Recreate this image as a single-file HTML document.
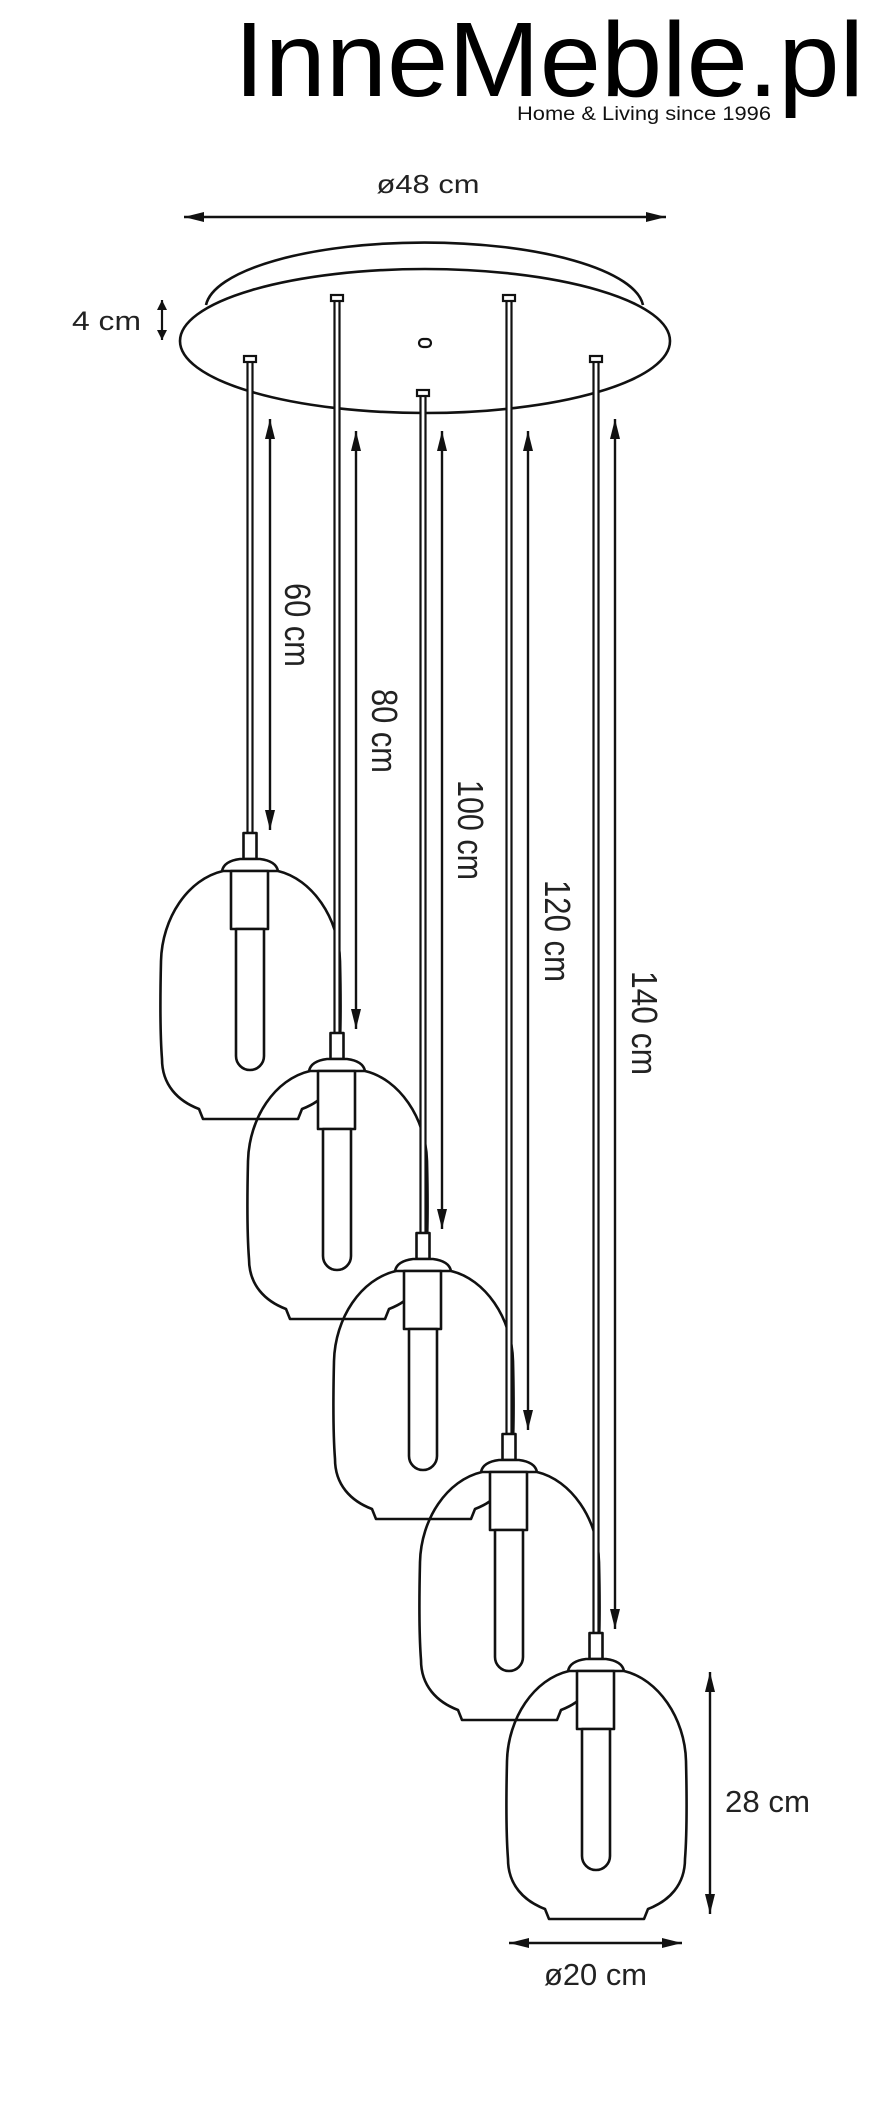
<!DOCTYPE html>
<html><head><meta charset="utf-8"><style>
html,body{margin:0;padding:0;background:#fff;}
svg{display:block;}
text{font-family:"Liberation Sans",sans-serif;fill:#222;}
</style></head><body>
<svg width="881" height="2113" viewBox="0 0 881 2113" xmlns="http://www.w3.org/2000/svg">
<defs>
<g id="lamp" stroke="#111" stroke-width="2.6" stroke-linejoin="round">
  <path d="M-27,38 C-62,46 -88,85 -89,128 C-90,170 -90,200 -88,226 C-88,252 -72,268 -51,276 L-47,286 L48,286 L52,276 C73,268 89,252 89,226 C91,200 91,170 90,128 C89,85 62,46 28,38" fill="none"/>
  <rect x="-6.5" y="0" width="13" height="26" fill="#fff"/>
  <path d="M-28,38 Q-26,28 -10,26 L10,26 Q26,28 28,38 Z" fill="#fff"/>
  <rect x="-19" y="38" width="37" height="58" fill="#fff"/>
  <path d="M-14,96 L-14,223 A14,14 0 0 0 14,223 L14,96 Z" fill="#fff"/>
</g>
<marker id="ah" viewBox="0 0 10 10" refX="10" refY="5" markerWidth="10" markerHeight="10" markerUnits="userSpaceOnUse" orient="auto-start-reverse">
  <path d="M0,0 L10,5 L0,10 Z" fill="#111"/>
</marker>
<marker id="ahb" viewBox="0 0 20 10" refX="20" refY="5" markerWidth="20" markerHeight="10" markerUnits="userSpaceOnUse" orient="auto-start-reverse">
  <path d="M0,0 L20,5 L0,10 Z" fill="#111"/>
</marker>
</defs>

<!-- logo -->
<text x="234" y="96" font-size="106" textLength="630" lengthAdjust="spacingAndGlyphs" style="fill:#000">InneMeble.pl</text>
<text x="517" y="120" font-size="19" textLength="254" lengthAdjust="spacingAndGlyphs" style="fill:#111">Home &amp; Living since 1996</text>

<!-- top dimension -->
<text x="428" y="193" font-size="26" text-anchor="middle" textLength="103" lengthAdjust="spacingAndGlyphs">ø48 cm</text>
<line x1="184" y1="217" x2="666" y2="217" stroke="#111" stroke-width="2.4" marker-start="url(#ahb)" marker-end="url(#ahb)"/>

<text x="72" y="330" font-size="27" textLength="69" lengthAdjust="spacingAndGlyphs">4 cm</text>
<line x1="162" y1="300" x2="162" y2="340" stroke="#111" stroke-width="2.2" marker-start="url(#ah)" marker-end="url(#ah)"/>

<!-- canopy -->
<path d="M206,305 A219,67 0 0 1 643,305" fill="#fff" stroke="#111" stroke-width="2.6"/>
<ellipse cx="425" cy="341" rx="245" ry="72" fill="#fff" stroke="#111" stroke-width="2.6"/>
<rect x="419" y="339" width="12" height="8" rx="4" fill="#fff" stroke="#111" stroke-width="2.2"/>

<!-- dimension arrows for cables -->
<g stroke="#111" stroke-width="2.4">
<line x1="270" y1="419" x2="270" y2="830" marker-start="url(#ahb)" marker-end="url(#ahb)"/>
<line x1="356" y1="431" x2="356" y2="1029" marker-start="url(#ahb)" marker-end="url(#ahb)"/>
<line x1="442" y1="431" x2="442" y2="1229" marker-start="url(#ahb)" marker-end="url(#ahb)"/>
<line x1="528" y1="431" x2="528" y2="1430" marker-start="url(#ahb)" marker-end="url(#ahb)"/>
<line x1="615" y1="419" x2="615" y2="1629" marker-start="url(#ahb)" marker-end="url(#ahb)"/>
</g>
<g font-size="36">
<text transform="translate(285,625) rotate(90)" text-anchor="middle" textLength="84" lengthAdjust="spacingAndGlyphs">60 cm</text>
<text transform="translate(372,731) rotate(90)" text-anchor="middle" textLength="84" lengthAdjust="spacingAndGlyphs">80 cm</text>
<text transform="translate(458,830) rotate(90)" text-anchor="middle" textLength="100" lengthAdjust="spacingAndGlyphs">100 cm</text>
<text transform="translate(545,931) rotate(90)" text-anchor="middle" textLength="102" lengthAdjust="spacingAndGlyphs">120 cm</text>
<text transform="translate(632,1023) rotate(90)" text-anchor="middle" textLength="104" lengthAdjust="spacingAndGlyphs">140 cm</text>
</g>

<!-- lamp 1 -->
<g stroke="#111" stroke-width="2.2" fill="#fff">
<rect x="247.5" y="359" width="5" height="474"/><rect x="244" y="356" width="12" height="6"/>
</g>
<use href="#lamp" transform="translate(250,833)"/>
<!-- lamp 2 -->
<g stroke="#111" stroke-width="2.2" fill="#fff">
<rect x="334.5" y="298" width="5" height="735"/><rect x="331" y="295" width="12" height="6"/>
</g>
<use href="#lamp" transform="translate(337,1033)"/>
<!-- lamp 3 -->
<g stroke="#111" stroke-width="2.2" fill="#fff">
<rect x="420.5" y="393" width="5" height="840"/><rect x="417" y="390" width="12" height="6"/>
</g>
<use href="#lamp" transform="translate(423,1233)"/>
<!-- lamp 4 -->
<g stroke="#111" stroke-width="2.2" fill="#fff">
<rect x="506.5" y="298" width="5" height="1136"/><rect x="503" y="295" width="12" height="6"/>
</g>
<use href="#lamp" transform="translate(509,1434)"/>
<!-- lamp 5 -->
<g stroke="#111" stroke-width="2.2" fill="#fff">
<rect x="593.5" y="359" width="5" height="1274"/><rect x="590" y="356" width="12" height="6"/>
</g>
<use href="#lamp" transform="translate(596,1633)"/>

<!-- lamp dims -->
<line x1="710" y1="1672" x2="710" y2="1914" stroke="#111" stroke-width="2.4" marker-start="url(#ahb)" marker-end="url(#ahb)"/>
<text x="725" y="1812" font-size="31" textLength="85" lengthAdjust="spacingAndGlyphs">28 cm</text>
<line x1="509" y1="1943" x2="682" y2="1943" stroke="#111" stroke-width="2.4" marker-start="url(#ahb)" marker-end="url(#ahb)"/>
<text x="544" y="1985" font-size="31" textLength="103" lengthAdjust="spacingAndGlyphs">ø20 cm</text>
</svg>
</body></html>
